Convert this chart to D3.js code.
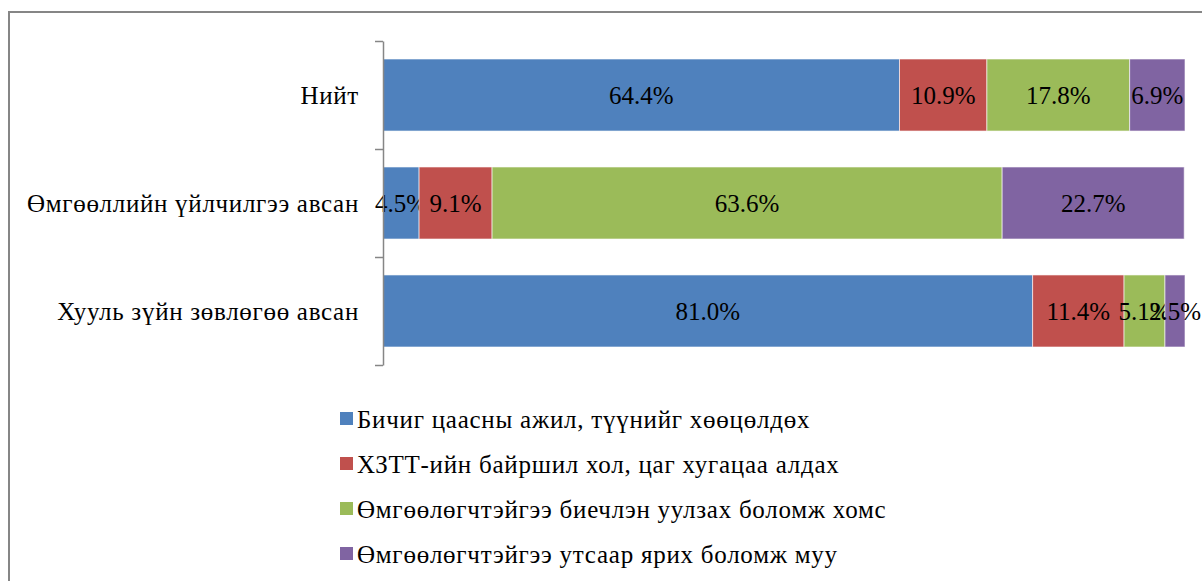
<!DOCTYPE html>
<html>
<head>
<meta charset="utf-8">
<script src="https://cdn.jsdelivr.net/npm/d3@7"></script>
</head>
<body style="margin:0; background:#fff">
<div id="chart"></div>
<script>
// categories, top to bottom
var categories = ["Нийт", "Өмгөөллийн үйлчилгээ авсан", "Хууль зүйн зөвлөгөө авсан"];
var series = [
  "Бичиг цаасны ажил, түүнийг хөөцөлдөх",
  "ХЗТТ-ийн байршил хол, цаг хугацаа алдах",
  "Өмгөөлөгчтэйгээ биечлэн уулзах боломж хомс",
  "Өмгөөлөгчтэйгээ утсаар ярих боломж муу"
];
var paperwork = [64.4, 4.5, 81.0];
var distance = [10.9, 9.1, 11.4];
var meetInPerson = [17.8, 63.6, 5.1];
var phoneCall = [6.9, 22.7, 2.5];
var colors = ["#4F81BD", "#C0504D", "#9BBB59", "#8064A2"];

var width = 1202, height = 581;
var font = "'Liberation Serif', 'Times New Roman', serif";

var svg = d3.select("#chart").append("svg")
  .attr("width", width)
  .attr("height", height);

// outer chart border
svg.append("rect")
  .attr("x", 9).attr("y", 12)
  .attr("width", 1300).attr("height", 700)
  .attr("fill", "none")
  .attr("stroke", "#868686")
  .attr("stroke-width", 2);

var x = d3.scaleLinear().domain([0, 100]).range([383, 1185]);
var y = d3.scaleBand().domain(categories).range([41, 365]).paddingInner(0.333).paddingOuter(0.1667);
var yEdge = d3.scaleLinear().domain([0, categories.length]).range([41, 365]);

var table = categories.map(function(c, i) {
  return { cat: c, vals: [paperwork[i], distance[i], meetInPerson[i], phoneCall[i]] };
});
var stack = d3.stack().keys([0, 1, 2, 3]).value(function(d, k) { return d.vals[k]; });
var layers = stack(table);

var g = svg.selectAll(".layer")
  .data(layers)
  .enter().append("g")
  .attr("class", "layer")
  .attr("fill", function(d, i) { return colors[i]; });

g.selectAll("rect")
  .data(function(d) { return d; })
  .enter().append("rect")
  .attr("x", function(d) { return x(d[0]); })
  .attr("y", function(d) { return y(d.data.cat); })
  .attr("width", function(d) { return x(d[1]) - x(d[0]); })
  .attr("height", y.bandwidth())
  .attr("stroke", "#fff")
  .attr("stroke-opacity", 0.6)
  .attr("stroke-width", 1);

g.selectAll("text")
  .data(function(d) { return d; })
  .enter().append("text")
  .attr("x", function(d) { return (x(d[0]) + x(d[1])) / 2; })
  .attr("y", function(d) { return y(d.data.cat) + y.bandwidth() / 2; })
  .attr("dy", "0.35em")
  .attr("text-anchor", "middle")
  .attr("fill", "#000")
  .attr("font-family", font)
  .attr("font-size", 25)
  .text(function(d) { return (d[1] - d[0]).toFixed(1) + "%"; });

// category axis
var axis = svg.append("g")
  .attr("transform", "translate(383,0)")
  .call(d3.axisLeft(yEdge).tickValues([0, 1, 2, 3]).tickSize(8).tickSizeOuter(0).tickFormat(""));
axis.selectAll("path, line").attr("stroke", "#868686").attr("stroke-width", 1.5);

svg.selectAll(".cat")
  .data(categories)
  .enter().append("text")
  .attr("class", "cat")
  .attr("x", 359)
  .attr("y", function(d) { return y(d) + y.bandwidth() / 2; })
  .attr("dy", "0.35em")
  .attr("text-anchor", "end")
  .attr("fill", "#000")
  .attr("font-family", font)
  .attr("font-size", 25)
  .attr("letter-spacing", 0.7)
  .text(function(d) { return d; });

// legend
var legend = svg.selectAll(".legend")
  .data(series)
  .enter().append("g")
  .attr("class", "legend")
  .attr("transform", function(d, i) { return "translate(340," + (419 + i * 45) + ")"; });

legend.append("rect")
  .attr("x", 0).attr("y", -7)
  .attr("width", 13).attr("height", 13)
  .attr("fill", function(d, i) { return colors[i]; });

legend.append("text")
  .attr("x", 17)
  .attr("dy", "0.35em")
  .attr("fill", "#000")
  .attr("font-family", font)
  .attr("font-size", 25)
  .attr("letter-spacing", 0.75)
  .text(function(d) { return d; });
</script>
</body>
</html>
